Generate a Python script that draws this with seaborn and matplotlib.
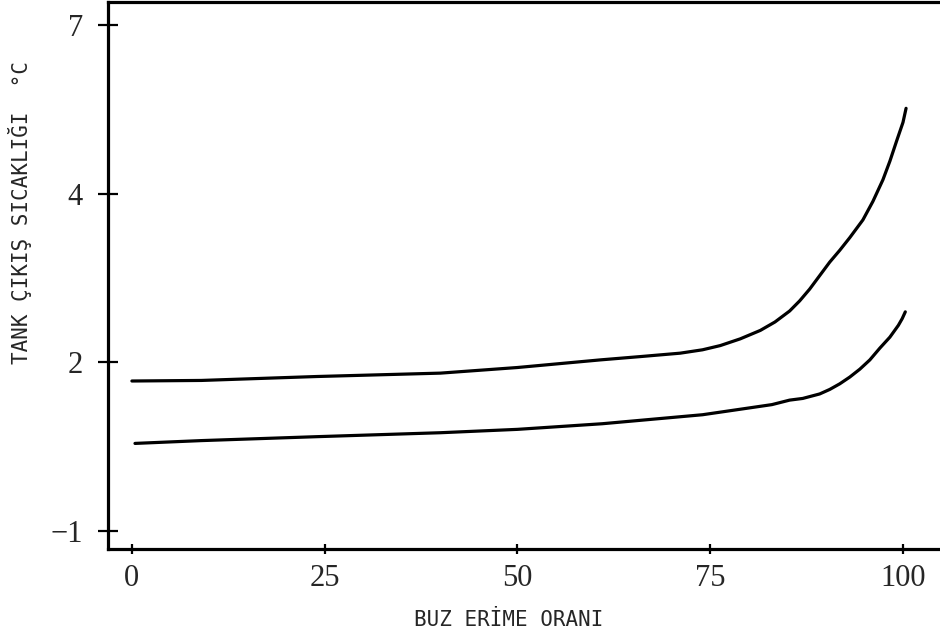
import numpy as np
import pandas as pd
import matplotlib
matplotlib.use("Agg")
import matplotlib.pyplot as plt
from matplotlib.ticker import FixedLocator, FixedFormatter, NullLocator
import seaborn as sns

# Ice melt ratio (%) and tank outlet temperature (°C), two operating cases
melt_upper = [0, 9, 24, 40, 50, 60.7, 66, 71.1, 74, 76.3, 78.9, 81.5, 83.4, 85.3,
              86.6, 87.9, 89.2, 90.5, 91.8, 93.1, 94.8, 96.1, 97.4, 98.3, 99.2,
              100.0, 100.4]
temp_upper = [1.67, 1.68, 1.75, 1.81, 1.91, 2.03, 2.07, 2.11, 2.15, 2.20, 2.28, 2.38,
              2.48, 2.61, 2.73, 2.87, 3.03, 3.19, 3.33, 3.48, 3.69, 3.91, 4.25,
              4.58, 4.95, 5.27, 5.52]

melt_lower = [0.4, 9, 24, 40, 50, 61, 74, 83, 85.3, 87, 89.2, 90.5, 91.8, 93.1, 94.4,
              95.7, 97.0, 98.3, 99.4, 99.9, 100.3]
temp_lower = [0.56, 0.61, 0.68, 0.75, 0.81, 0.91, 1.07, 1.25, 1.33, 1.36, 1.44, 1.52,
              1.62, 1.74, 1.88, 2.03, 2.17, 2.30, 2.44, 2.52, 2.60]

x_ticks = [0, 25, 50, 75, 100]
y_ticks = [-1, 2, 4, 7]
y_tick_labels = ["\u22121", "2", "4", "7"]

x_label = "BUZ ERİME ORANI"
y_label = "TANK ÇIKIŞ SICAKLIĞI  °C"

df = pd.concat([
    pd.DataFrame({"melt": melt_upper, "temp": temp_upper, "case": "upper"}),
    pd.DataFrame({"melt": melt_lower, "temp": temp_lower, "case": "lower"}),
], ignore_index=True)

# Temperature axis: the labelled values are evenly spaced on the page,
# so use a piecewise-linear scale through those values.
kv = np.array(y_ticks, dtype=float)
kp = np.arange(len(kv), dtype=float)


def fwd(v):
    v = np.asarray(v, dtype=float)
    p = np.interp(v, kv, kp)
    s0 = (kp[1] - kp[0]) / (kv[1] - kv[0])
    s1 = (kp[-1] - kp[-2]) / (kv[-1] - kv[-2])
    p = np.where(v < kv[0], kp[0] + (v - kv[0]) * s0, p)
    p = np.where(v > kv[-1], kp[-1] + (v - kv[-1]) * s1, p)
    return p


def inv(p):
    p = np.asarray(p, dtype=float)
    v = np.interp(p, kp, kv)
    s0 = (kv[1] - kv[0]) / (kp[1] - kp[0])
    s1 = (kv[-1] - kv[-2]) / (kp[-1] - kp[-2])
    v = np.where(p < kp[0], kv[0] + (p - kp[0]) * s0, v)
    v = np.where(p > kp[-1], kv[-1] + (p - kp[-1]) * s1, v)
    return v


sns.set_style("white")
plt.rcParams["font.family"] = ["DejaVu Sans"]

fig = plt.figure(figsize=(9.4, 6.38), dpi=100)
ax = fig.add_axes([108 / 940, 1 - 549 / 638, 1 - 108 / 940, (549 - 2) / 638])
ax.set_yscale("function", functions=(fwd, inv))

sns.lineplot(data=df, x="melt", y="temp", hue="case", units="case",
             estimator=None, sort=False, palette=["black", "black"],
             linewidth=2.3, legend=False, ax=ax)
for line in ax.get_lines():
    line.set_solid_joinstyle("round")
    line.set_solid_capstyle("round")

ax.set_xlim(-3.1, 104.8)
ax.set_ylim(inv(-0.106), inv(3.137))

ax.xaxis.set_major_locator(FixedLocator(x_ticks))
ax.yaxis.set_major_locator(FixedLocator(y_ticks))
ax.yaxis.set_major_formatter(FixedFormatter(y_tick_labels))
ax.yaxis.set_minor_locator(NullLocator())
ax.xaxis.set_minor_locator(NullLocator())

for lab in ax.get_xticklabels() + ax.get_yticklabels():
    lab.set_fontfamily("Liberation Serif")
    lab.set_fontsize(22)

ax.tick_params(axis="y", direction="inout", length=14, width=1.6,
               color="black", pad=11, left=True)
ax.tick_params(axis="x", direction="inout", length=7, width=1.6,
               color="black", pad=7, bottom=True)

for side in ["left", "bottom", "top"]:
    ax.spines[side].set_visible(True)
    ax.spines[side].set_color("black")
    ax.spines[side].set_linewidth(2.3)
ax.spines["right"].set_visible(False)

label_font = dict(family="DejaVu Sans Mono", size=15)
ax.set_xlabel(x_label, fontdict=label_font)
ax.set_ylabel(y_label, fontdict=label_font)
ax.xaxis.set_label_coords((509 - 108) / 832, -(620 - 549) / 547)
ax.yaxis.set_label_coords((20 - 108) / 832, (549 - 212) / 547)
ax.xaxis.label.set_va("center")
ax.yaxis.label.set_va("center")

fig.savefig("out.png", dpi=100, facecolor="white")
